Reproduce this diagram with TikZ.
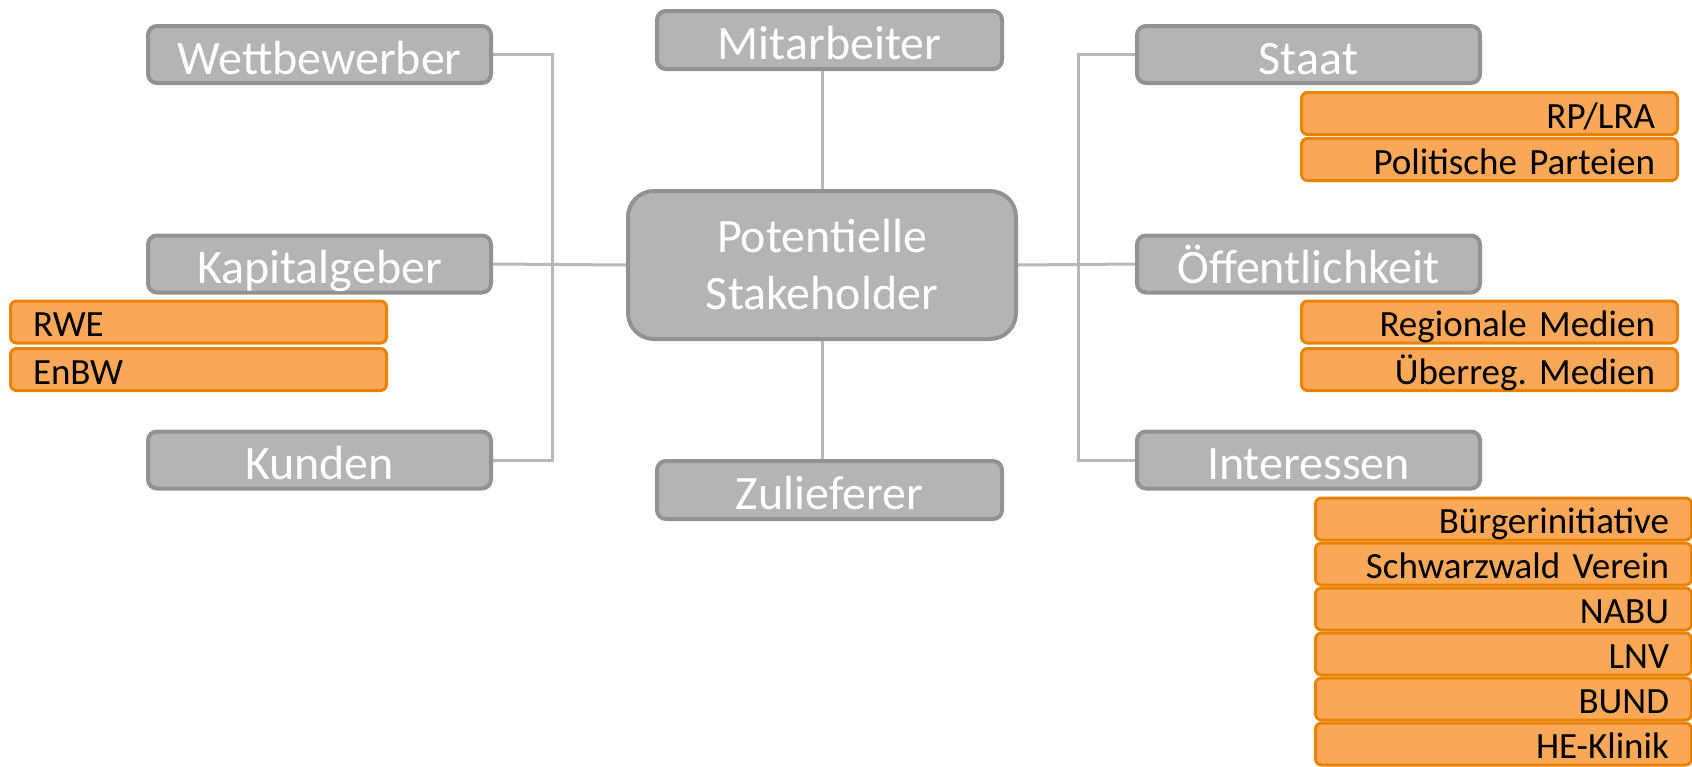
\documentclass[tikz,border=0pt]{standalone}
\usepackage{fontspec}
\setmainfont{Carlito}
\frenchspacing
\usetikzlibrary{backgrounds}
\definecolor{gfill}{HTML}{B4B4B4}
\definecolor{gline}{HTML}{929292}
\definecolor{cline}{HTML}{B8B8B8}
\definecolor{ofill}{HTML}{F8A857}
\definecolor{oline}{HTML}{EA8204}
\tikzset{
  greybox/.style={draw=gline, fill=gfill, line width=4pt, rounded corners=9pt,
    minimum width=343pt, minimum height=57pt, inner sep=0pt,
    text=white, font=\fontsize{48}{57}\selectfont, text height=41pt, text depth=2pt},
  centralbox/.style={draw=gline, fill=gfill, line width=4pt, rounded corners=26pt,
    minimum width=388pt, minimum height=148pt, inner sep=0pt, align=center,
    text=white, font=\fontsize{48}{57}\selectfont},
  orangebox/.style={draw=oline, fill=ofill, line width=3pt, rounded corners=6pt,
    minimum height=42pt, inner ysep=0pt, inner xsep=22.5pt,
    text=black, font=\fontsize{37}{42}\selectfont, text height=31pt, text depth=2pt},
  oright/.style={orangebox, align=right, text width=#1},
  oleft/.style={orangebox, align=left, text width=#1},
  conn/.style={draw=cline, line width=3pt},
}
\begin{document}
\begin{tikzpicture}[x=1pt, y=-1pt]
\useasboundingbox (0,0) rectangle (1692,766);
% grey nodes
\node[greybox] (wett) at (319.5,54.5) {Wettbewerber};
\node[greybox, minimum height=58pt, minimum width=345pt] (mit) at (829.5,40) {Mitarbeiter};
\node[greybox] (staat) at (1308.5,54.5) {Staat};
\node[greybox] (kap) at (319.5,264) {Kapitalgeber};
\node[centralbox] (zentral) at (822,265) {Potentielle\\Stakeholder};
\node[greybox] (oeff) at (1308.5,264) {Öffentlichkeit};
\node[greybox] (kund) at (319.5,460) {Kunden};
\node[greybox, minimum height=58pt, minimum width=345pt] (zul) at (829.5,490) {Zulieferer};
\node[greybox] (inter) at (1308.5,460) {Interessen};
% orange nodes
\node[oright=331pt] (rp) at (1489.5,113.5) {RP/LRA};
\node[oright=331pt] (pol) at (1489.5,159.5) {Politische Parteien};
\node[oleft=331pt] (rwe) at (198.5,322) {RWE};
\node[oleft=331pt] (enbw) at (198.5,369.5) {EnBW};
\node[oright=331pt] (reg) at (1489.5,322) {Regionale Medien};
\node[oright=331pt] (ueb) at (1489.5,369.5) {Überreg. Medien};
\node[oright=331pt] (bi) at (1503.5,519) {Bürgerinitiative};
\node[oright=331pt] (sv) at (1503.5,564) {Schwarzwald Verein};
\node[oright=331pt] (nabu) at (1503.5,609) {NABU};
\node[oright=331pt] (lnv) at (1503.5,654) {LNV};
\node[oright=331pt] (bund) at (1503.5,699) {BUND};
\node[oright=331pt] (he) at (1503.5,744) {HE-Klinik};
% connectors
\coordinate (lx) at (552.5,0);
\coordinate (rx) at (1078,0);
\begin{pgfonlayer}{background}
\draw[conn] (wett.east) -- (wett.east -| lx) -- (kund.east -| lx) -- (kund.east);
\draw[conn] (kap.east) -- (zentral.west);
\draw[conn] (staat.west) -- (staat.west -| rx) -- (inter.west -| rx) -- (inter.west);
\draw[conn] (oeff.west) -- (zentral.east);
\draw[conn] (zentral.north) -- (zentral.north |- mit.south);
\draw[conn] (zentral.south) -- (zentral.south |- zul.north);
\end{pgfonlayer}
\end{tikzpicture}
\end{document}
